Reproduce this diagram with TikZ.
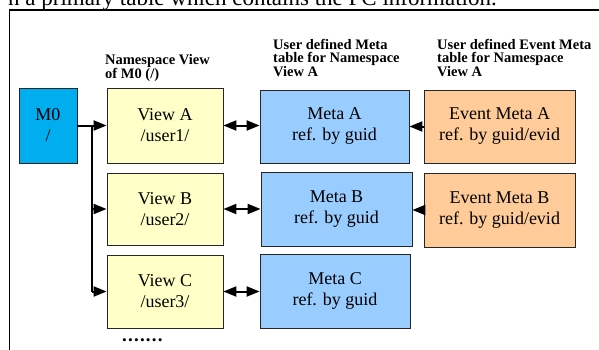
\documentclass[tikz,border=0pt]{standalone}
\usepackage{fontspec}
\setmainfont{Liberation Serif}
\newfontfamily\boxfont{Liberation Serif}
\usetikzlibrary{arrows.meta}
\definecolor{mzero}{HTML}{00AEEF}
\definecolor{viewy}{HTML}{FFFFC8}
\definecolor{metab}{HTML}{99CCFF}
\definecolor{evento}{HTML}{FFCC99}
\tikzset{
  box/.style={draw=black!85, line width=0.8pt, inner sep=0pt, align=center,
    font=\boxfont\fontsize{18}{21}\selectfont},
  hdr/.style={anchor=north west, inner sep=0pt, align=left,
    font=\fontsize{14.5}{13}\selectfont\bfseries},
  tip/.tip={Triangle[length=13pt,width=10pt]},
  conn/.style={line width=2pt},
  arr/.style={line width=2pt, -tip},
  darr/.style={line width=2pt, tip-tip},
  earr/.style={line width=2pt, -tip}
}
\begin{document}
\begin{tikzpicture}[x=1pt,y=-1pt]
\useasboundingbox (0,0) rectangle (599,350);
\clip (0,0) rectangle (599,350);
% cut-off text line at the top
\node[anchor=base east, inner sep=0pt, font=\fontsize{23}{23}\selectfont] (top) at (497,6)
  {n a primary table which contains the FC information.};
% frame
\draw[line width=1.3pt] (9.5,350) -- (9.5,10) -- (599,10);
% headers
\node[hdr] (h1) at (105,54) {Namespace View\\of M0 (/)};
\node[hdr] (h2) at (273,39) {User defined Meta\\table for Namespace\\View A};
\node[hdr] (h3) at (437,39) {User defined Event Meta\\table for Namespace\\View A};
% boxes
\node[box, fill=mzero, minimum width=58pt, minimum height=75pt] (m0) at (48,125.5) {M0\\/};
\node[box, fill=viewy, minimum width=116pt, minimum height=75pt] (va) at (165,125.5) {View A\\/user1/};
\node[box, fill=viewy, minimum width=116pt, minimum height=72pt] (vb) at (165,209) {View B\\/user2/};
\node[box, fill=viewy, minimum width=116pt, minimum height=73pt] (vc) at (165,291.5) {View C\\/user3/};
\node[box, fill=metab, minimum width=149pt, minimum height=73pt] (ma) at (334.5,126.5) {Meta A\\ref. by guid};
\node[box, fill=metab, minimum width=151pt, minimum height=74pt] (mb) at (336.5,209) {Meta B\\ref. by guid};
\node[box, fill=metab, minimum width=150pt, minimum height=74pt] (mc) at (335,291) {Meta C\\ref. by guid};
\node[box, fill=evento, minimum width=151pt, minimum height=73pt] (ea) at (499.5,126.5) {Event Meta A\\ref. by guid/evid};
\node[box, fill=evento, minimum width=151pt, minimum height=74pt] (eb) at (499.5,210) {Event Meta B\\ref. by guid/evid};
% dots
\node[inner sep=0pt, anchor=base west, font=\fontsize{19}{19}\selectfont\bfseries] (dots) at (122,341)
  {.\hspace{1.2pt}.\hspace{1.2pt}.\hspace{1.2pt}.\hspace{1.2pt}.\hspace{1.2pt}.\hspace{1.2pt}.};
% connectors
\coordinate (t) at (92,0);
\draw[conn] (m0.east) -- (m0.east -| t) -- (t |- vc.west);
\draw[arr] (m0.east -| t) -- (va.west);
\draw[arr] (t |- vb.west) -- (vb.west);
\draw[arr] (t |- vc.west) -- (vc.west);
\draw[darr] (va.east) -- (va.east -| ma.west);
\draw[darr] (vb.east) -- (vb.east -| mb.west);
\draw[darr] (vc.east) -- (vc.east -| mc.west);
\draw[earr] (ea.west) -- (ea.west -| ma.east);
\draw[earr] (eb.west) -- (eb.west -| mb.east);
\end{tikzpicture}
\end{document}
